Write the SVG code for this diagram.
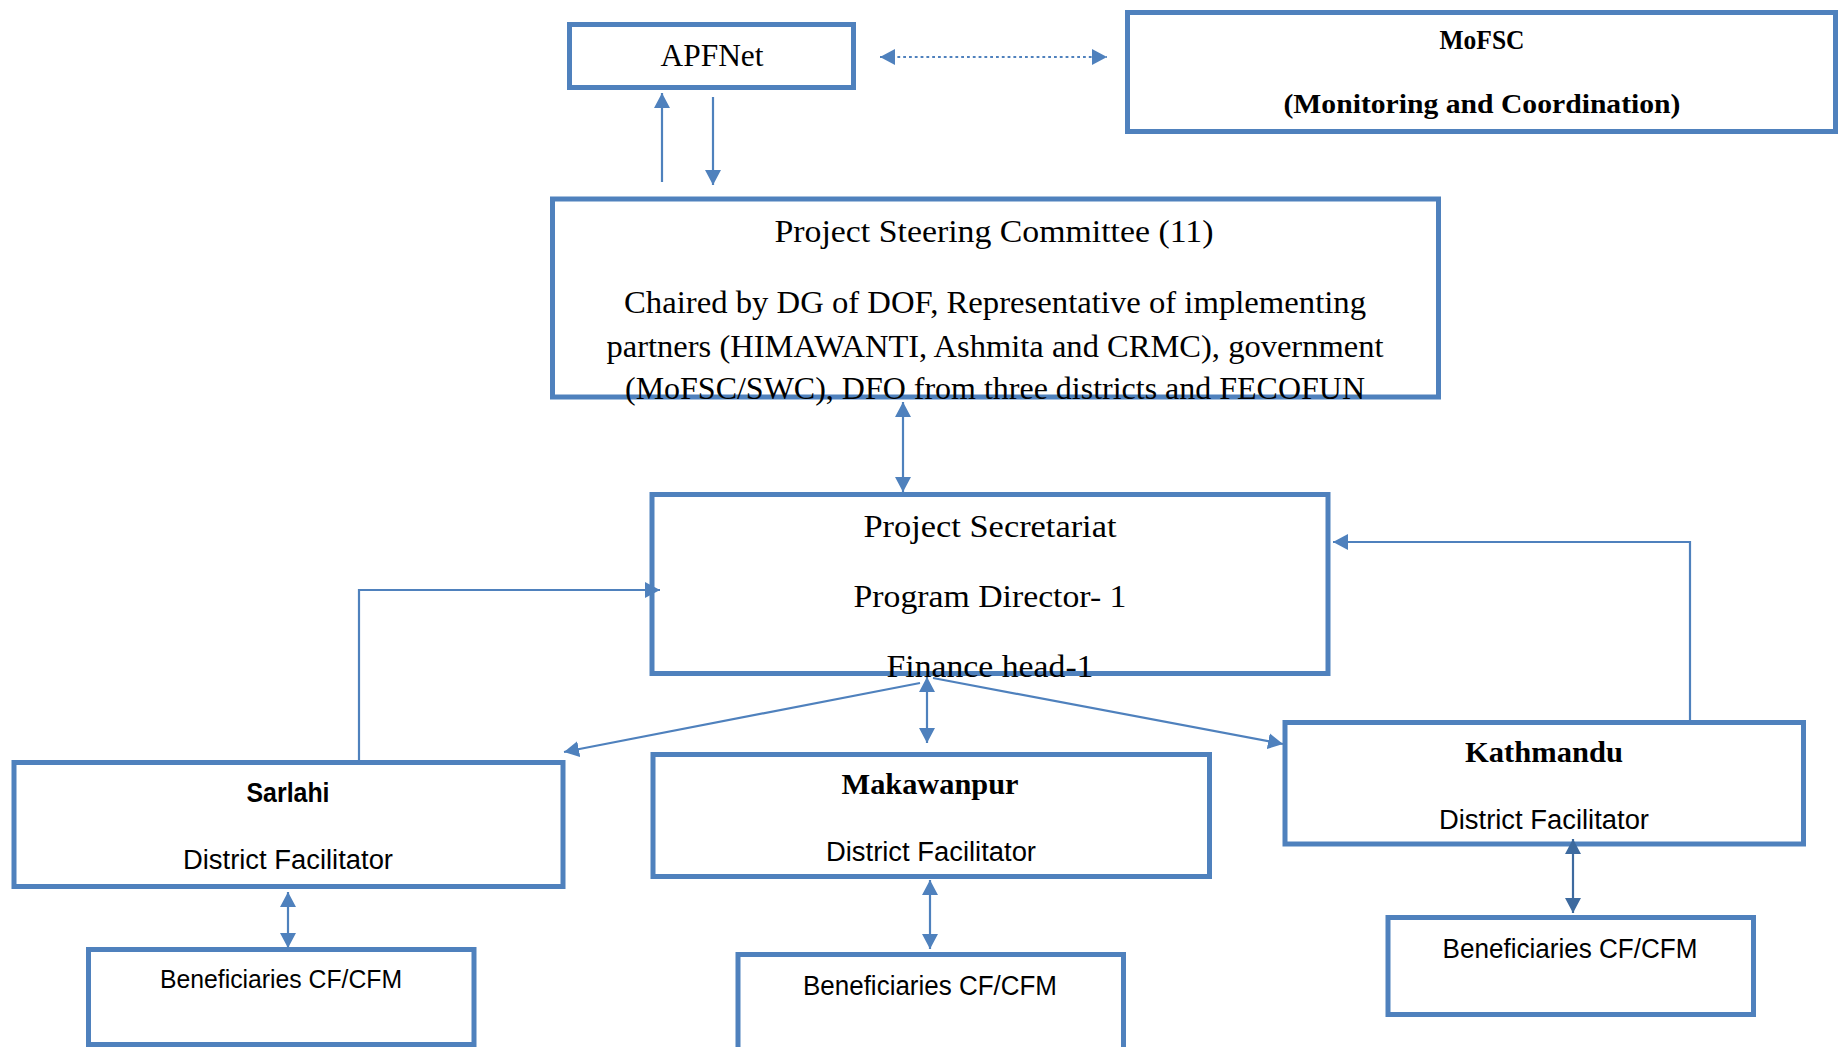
<svg xmlns="http://www.w3.org/2000/svg" width="1843" height="1047" viewBox="0 0 1843 1047">
<style>
.box{fill:#ffffff;stroke:#4f81bd;stroke-width:5}
.ser{font-family:"Liberation Serif","Times New Roman",serif;fill:#000;text-anchor:middle}
.sans{font-family:"Liberation Sans",Arial,sans-serif;fill:#000;text-anchor:middle}
.con{fill:none;stroke:#4f81bd;stroke-width:2.2}
.dark{stroke:#3d6a9f}
</style>
<defs>
<marker id="ah" markerUnits="userSpaceOnUse" markerWidth="16" markerHeight="16" refX="15" refY="8" orient="auto-start-reverse" viewBox="0 0 16 16">
<path d="M0,0 L15,8 L0,16 z" fill="#4f81bd"/>
</marker>
<marker id="ahd" markerUnits="userSpaceOnUse" markerWidth="16" markerHeight="16" refX="15" refY="8" orient="auto-start-reverse" viewBox="0 0 16 16">
<path d="M0,0 L15,8 L0,16 z" fill="#3d6a9f"/>
</marker>
</defs>
<rect width="1843" height="1047" fill="#ffffff"/>

<g id="node-apfnet">
<rect class="box" x="569.5" y="24.5" width="284" height="63"/>
<text class="ser" x="712" y="66" font-size="31" textLength="103" lengthAdjust="spacingAndGlyphs">APFNet</text>
</g>
<g id="node-mofsc">
<rect class="box" x="1127.5" y="12.5" width="708" height="119"/>
<text class="ser" x="1482" y="49" font-size="27" font-weight="bold" textLength="85" lengthAdjust="spacingAndGlyphs">MoFSC</text>
<text class="ser" x="1482" y="113" font-size="27" font-weight="bold" textLength="397" lengthAdjust="spacingAndGlyphs">(Monitoring and Coordination)</text>
</g>
<g id="node-psc">
<rect class="box" x="552.5" y="199" width="886" height="198"/>
<text class="ser" x="994" y="242" font-size="31" textLength="439" lengthAdjust="spacingAndGlyphs">Project Steering Committee (11)</text>
<text class="ser" x="995" y="313" font-size="31" textLength="742" lengthAdjust="spacingAndGlyphs">Chaired by DG of DOF, Representative of implementing</text>
<text class="ser" x="995" y="357" font-size="31" textLength="777" lengthAdjust="spacingAndGlyphs">partners (HIMAWANTI, Ashmita and CRMC), government</text>
<text class="ser" x="995" y="399" font-size="31" textLength="740" lengthAdjust="spacingAndGlyphs">(MoFSC/SWC), DFO from three districts and FECOFUN</text>
</g>
<g id="node-ps">
<rect class="box" x="652" y="494.5" width="676" height="179"/>
<text class="ser" x="990" y="537" font-size="31" textLength="253" lengthAdjust="spacingAndGlyphs">Project Secretariat</text>
<text class="ser" x="990" y="607" font-size="31" textLength="273" lengthAdjust="spacingAndGlyphs">Program Director- 1</text>
<text class="ser" x="990" y="677" font-size="31" textLength="207" lengthAdjust="spacingAndGlyphs">Finance head-1</text>
</g>
<g id="node-sarlahi">
<rect class="box" x="14" y="762.5" width="549" height="124"/>
<text class="sans" x="288" y="802" font-size="27" font-weight="bold" textLength="83" lengthAdjust="spacingAndGlyphs">Sarlahi</text>
<text class="sans" x="288" y="869" font-size="27" textLength="210" lengthAdjust="spacingAndGlyphs">District Facilitator</text>
</g>
<g id="node-sarlahi-ben">
<rect class="box" x="88.5" y="949.5" width="385.5" height="95"/>
<text class="sans" x="281" y="988" font-size="26" textLength="242" lengthAdjust="spacingAndGlyphs">Beneficiaries CF/CFM</text>
</g>
<g id="node-makawanpur">
<rect class="box" x="653" y="754.5" width="556.5" height="122"/>
<text class="ser" x="930" y="794" font-size="29" font-weight="bold" textLength="177" lengthAdjust="spacingAndGlyphs">Makawanpur</text>
<text class="sans" x="931" y="861" font-size="27" textLength="210" lengthAdjust="spacingAndGlyphs">District Facilitator</text>
</g>
<g id="node-makawanpur-ben">
<rect class="box" x="738" y="954.5" width="385.5" height="110"/>
<text class="sans" x="930" y="995" font-size="27" textLength="254" lengthAdjust="spacingAndGlyphs">Beneficiaries CF/CFM</text>
</g>
<g id="node-kathmandu">
<rect class="box" x="1285" y="722.5" width="518.5" height="121.5"/>
<text class="ser" x="1544" y="762" font-size="29" font-weight="bold" textLength="158" lengthAdjust="spacingAndGlyphs">Kathmandu</text>
<text class="sans" x="1544" y="829" font-size="27" textLength="210" lengthAdjust="spacingAndGlyphs">District Facilitator</text>
</g>
<g id="node-kathmandu-ben">
<rect class="box" x="1388" y="917.5" width="365.5" height="97"/>
<text class="sans" x="1570" y="958" font-size="27" textLength="255" lengthAdjust="spacingAndGlyphs">Beneficiaries CF/CFM</text>
</g>

<g id="connectors">
<line class="con" x1="880" y1="57" x2="1107" y2="57" stroke-width="3" stroke-dasharray="2.8 3" marker-start="url(#ah)" marker-end="url(#ah)"/>
<line class="con" x1="662" y1="182" x2="662" y2="93" marker-end="url(#ah)"/>
<line class="con" x1="713" y1="97" x2="713" y2="185" marker-end="url(#ah)"/>
<line class="con" x1="903" y1="402" x2="903" y2="492" marker-start="url(#ah)" marker-end="url(#ah)"/>
<polyline class="con" points="359,760 359,590 660,590" marker-end="url(#ah)"/>
<polyline class="con" points="1690,720 1690,542 1333,542" marker-end="url(#ah)"/>
<line class="con" x1="920" y1="683" x2="564" y2="752" stroke-width="2.8" marker-end="url(#ah)"/>
<line class="con" x1="933" y1="678" x2="1283" y2="744" stroke-width="2.8" marker-end="url(#ah)"/>
<line class="con" x1="927" y1="677" x2="927" y2="743" stroke-width="2.8" marker-start="url(#ah)" marker-end="url(#ah)"/>
<line class="con" x1="930" y1="880" x2="930" y2="949" stroke-width="2.8" marker-start="url(#ah)" marker-end="url(#ah)"/>
<line class="con" x1="288" y1="892" x2="288" y2="948" stroke-width="2.8" marker-start="url(#ah)" marker-end="url(#ah)"/>
<line class="con dark" x1="1573" y1="839" x2="1573" y2="913" stroke-width="2.8" marker-start="url(#ahd)" marker-end="url(#ahd)"/>
</g>
</svg>
